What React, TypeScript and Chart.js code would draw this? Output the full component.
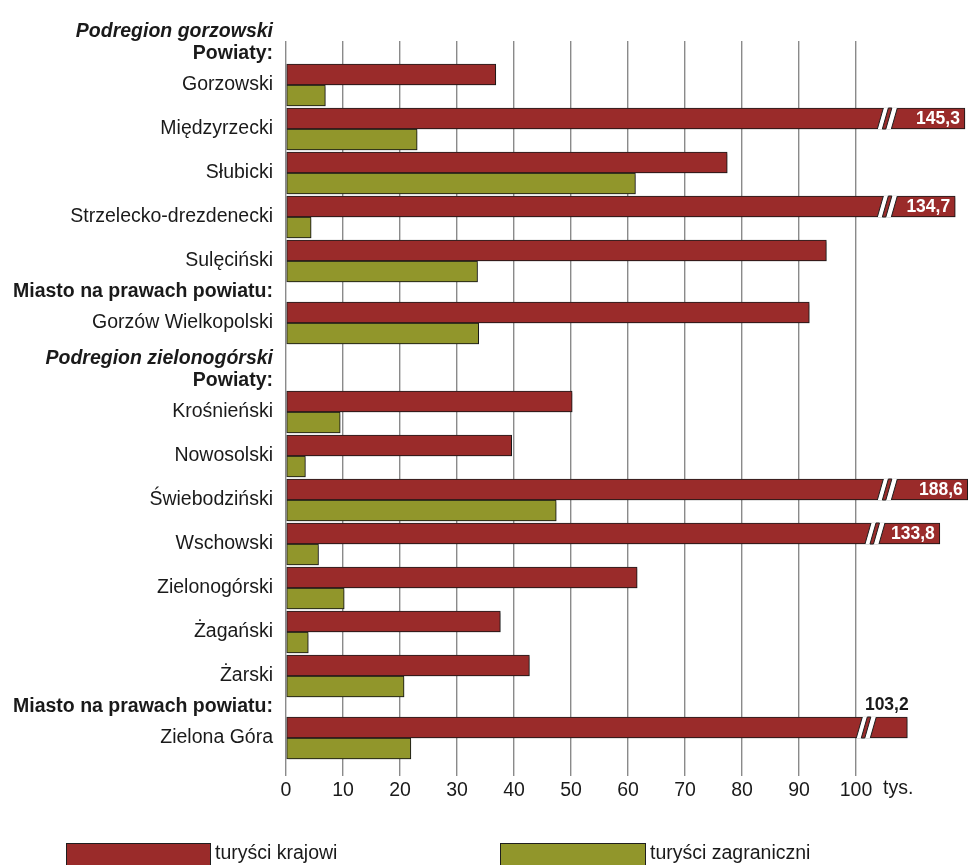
import React, { useEffect, useRef } from 'react';
import { Chart, registerables } from 'chart.js';

Chart.register(...registerables);

// ---------- data ----------
const categories: string[] = [
  'Gorzowski',
  'Międzyrzecki',
  'Słubicki',
  'Strzelecko-drezdenecki',
  'Sulęciński',
  'Gorzów Wielkopolski',
  'Krośnieński',
  'Nowosolski',
  'Świebodziński',
  'Wschowski',
  'Zielonogórski',
  'Żagański',
  'Żarski',
  'Zielona Góra',
];

// turyści krajowi (tys.)
const krajowi: number[] = [36.8, 145.3, 77.4, 134.7, 94.8, 91.8, 50.2, 39.6, 188.6, 133.8, 61.6, 37.6, 42.7, 103.2];
// shortened (broken-axis) drawn length for values beyond the axis; null = drawn at true value
const krajowiDrawn: (number | null)[] = [null, 119.1, null, 117.4, null, null, null, null, 119.6, 114.7, null, null, null, 109.0];
// turyści zagraniczni (tys.)
const zagraniczni: number[] = [6.9, 23.0, 61.3, 4.4, 33.6, 33.8, 9.5, 3.4, 47.4, 5.7, 10.2, 3.9, 20.7, 21.9];

// header rows: [insert before category index, kind, text]
const headerRows: Array<[number, string, string]> = [
  [0, 'region', 'Podregion gorzowski'],
  [0, 'group', 'Powiaty:'],
  [5, 'group', 'Miasto na prawach powiatu:'],
  [6, 'region', 'Podregion zielonogórski'],
  [6, 'group', 'Powiaty:'],
  [13, 'group', 'Miasto na prawach powiatu:'],
];

const xTicks: number[] = [0, 10, 20, 30, 40, 50, 60, 70, 80, 90, 100];
const seriesNames: string[] = ['turyści krajowi', 'turyści zagraniczni'];

// ---------- style ----------
const FONT = '"Liberation Sans", Arial, Helvetica, sans-serif';
const RED = '#9a2b2a';
const GREEN = '#91962b';
const EDGE = '#1e1e1e';
const TEXT = '#1a1a1a';
const ROW_UNITS: Record<string, number> = { region: 27 / 44, group: 18 / 44, data: 1 };

type Row = { kind: string; text: string; pos: number };

function buildRows(): { rows: Row[]; dataPos: number[] } {
  const seq: { kind: string; text: string }[] = [];
  categories.forEach((c, i) => {
    headerRows.filter((h) => h[0] === i).forEach((h) => seq.push({ kind: h[1], text: h[2] }));
    seq.push({ kind: 'data', text: c });
  });
  let acc = 0;
  const rows: Row[] = seq.map((r) => {
    const u = ROW_UNITS[r.kind];
    const pos = acc + u / 2;
    acc += u;
    return { ...r, pos };
  });
  const dataPos = rows.filter((r) => r.kind === 'data').map((r) => r.pos);
  return { rows, dataPos };
}

const fmt = (v: number) => v.toFixed(1).replace('.', ',');

function fontFor(kind: string) {
  if (kind === 'region') return `italic bold 19.5px ${FONT}`;
  if (kind === 'group') return `bold 19.5px ${FONT}`;
  return `19.5px ${FONT}`;
}

export default function App() {
  const ref = useRef<HTMLCanvasElement | null>(null);

  useEffect(() => {
    document.body.style.margin = '0';
    const canvas = ref.current;
    if (!canvas) return;
    const { rows, dataPos } = buildRows();
    const yMin = dataPos[0] - 1;
    const yMax = yMin + 735 / 44;

    const overlay = {
      id: 'overlay',
      beforeDatasetsDraw(chart: any) {
        const c = chart.ctx;
        c.save();
        c.shadowColor = 'rgba(0,0,0,0.25)';
        c.shadowOffsetX = 2;
        c.shadowOffsetY = 2;
        c.shadowBlur = 2;
      },
      afterDatasetsDraw(chart: any) {
        chart.ctx.restore();
      },
      afterDraw(chart: any) {
        const ctx: CanvasRenderingContext2D = chart.ctx;
        const ys = chart.scales.y;
        const xs = chart.scales.x;
        const area = chart.chartArea;
        ctx.save();

        // category / header labels
        ctx.textAlign = 'right';
        ctx.textBaseline = 'middle';
        ctx.fillStyle = TEXT;
        rows.forEach((r) => {
          ctx.font = fontFor(r.kind);
          ctx.fillText(r.text, area.left - 13, ys.getPixelForValue(r.pos));
        });

        // axis breaks + value labels
        const meta = chart.getDatasetMeta(0);
        krajowi.forEach((v, i) => {
          if (krajowiDrawn[i] == null) return;
          const bar = meta.data[i];
          const { x, y, height } = bar.getProps(['x', 'y', 'height'], true);
          const top = y - height / 2;
          const bot = y + height / 2;
          const label = fmt(v);
          ctx.font = `bold 17.5px ${FONT}`;
          const tw = ctx.measureText(label).width;
          const inside = v >= 110;
          const c = inside ? Math.min(xs.getPixelForValue(105.5), x - tw - 21) : x - 41;
          const s = 3;
          const para = (a: number, b: number) => {
            ctx.beginPath();
            ctx.moveTo(a - s, bot);
            ctx.lineTo(a + s, top);
            ctx.lineTo(b + s, top);
            ctx.lineTo(b - s, bot);
            ctx.closePath();
          };
          ctx.fillStyle = '#ffffff';
          para(c - 7, c + 7);
          ctx.fill();
          ctx.fillStyle = RED;
          ctx.strokeStyle = EDGE;
          ctx.lineWidth = 1;
          para(c - 2, c + 1.5);
          ctx.fill();
          ctx.stroke();
          ctx.beginPath();
          ctx.moveTo(c - 7 - s, bot);
          ctx.lineTo(c - 7 + s, top);
          ctx.moveTo(c + 7 - s, bot);
          ctx.lineTo(c + 7 + s, top);
          ctx.stroke();

          ctx.textBaseline = 'middle';
          if (inside) {
            ctx.fillStyle = '#ffffff';
            ctx.textAlign = 'right';
            ctx.fillText(label, x - 5, y + 0.5);
          } else {
            ctx.fillStyle = TEXT;
            ctx.textAlign = 'center';
            ctx.fillText(label, (c + x) / 2, top - 12);
          }
        });

        // unit after last tick
        ctx.font = `19.5px ${FONT}`;
        ctx.fillStyle = TEXT;
        ctx.textAlign = 'left';
        ctx.textBaseline = 'middle';
        const w100 = ctx.measureText('100').width;
        ctx.fillText('tys.', xs.getPixelForValue(100) + w100 / 2 + ctx.measureText('  ').width, area.bottom + 13);

        // legend
        const items = [
          { x: 66, w: 144, color: RED, text: seriesNames[0] },
          { x: 500, w: 145, color: GREEN, text: seriesNames[1] },
        ];
        items.forEach((it) => {
          ctx.fillStyle = it.color;
          ctx.fillRect(it.x, 843, it.w, 26);
          ctx.strokeStyle = EDGE;
          ctx.lineWidth = 1;
          ctx.strokeRect(it.x + 0.5, 843.5, it.w, 26);
          ctx.fillStyle = TEXT;
          ctx.textAlign = 'left';
          ctx.textBaseline = 'middle';
          ctx.font = `19.5px ${FONT}`;
          ctx.fillText(it.text, it.x + it.w + 5, 854);
        });

        ctx.restore();
      },
    };

    const chart = new Chart(canvas, {
      type: 'bar',
      data: {
        datasets: [
          {
            label: seriesNames[0],
            data: categories.map((_, i) => ({ x: krajowiDrawn[i] ?? krajowi[i], y: dataPos[i] })),
            backgroundColor: RED,
            borderColor: EDGE,
            borderWidth: 1,
            borderSkipped: false,
            barThickness: 21,
          },
          {
            label: seriesNames[1],
            data: categories.map((_, i) => ({ x: zagraniczni[i], y: dataPos[i] })),
            backgroundColor: GREEN,
            borderColor: EDGE,
            borderWidth: 1,
            borderSkipped: false,
            barThickness: 21,
          },
        ] as any,
      },
      options: {
        indexAxis: 'y',
        animation: false,
        responsive: false,
        devicePixelRatio: 1,
        layout: { padding: { left: 286, top: 41, right: 0, bottom: 0 } },
        plugins: { legend: { display: false }, tooltip: { enabled: false } },
        scales: {
          x: {
            type: 'linear',
            min: 0,
            max: 120,
            offset: false,
            afterBuildTicks: (scale: any) => {
              scale.ticks = xTicks.map((v) => ({ value: v }));
            },
            afterFit: (scale: any) => {
              scale.height = 89;
            },
            grid: { color: '#8a8a8a', lineWidth: 1.4, drawTicks: false, offset: false },
            border: { display: false },
            ticks: {
              padding: 3,
              color: TEXT,
              font: { family: FONT, size: 19.5 },
              callback: (v: any) => String(v),
            },
          },
          y: {
            type: 'linear',
            display: false,
            reverse: true,
            offset: false,
            grid: { offset: false },
            min: yMin,
            max: yMax,
          },
        },
      } as any,
      plugins: [overlay],
    });
    return () => chart.destroy();
  }, []);

  return <canvas ref={ref} width={970} height={865} style={{ display: 'block' }} />;
}
